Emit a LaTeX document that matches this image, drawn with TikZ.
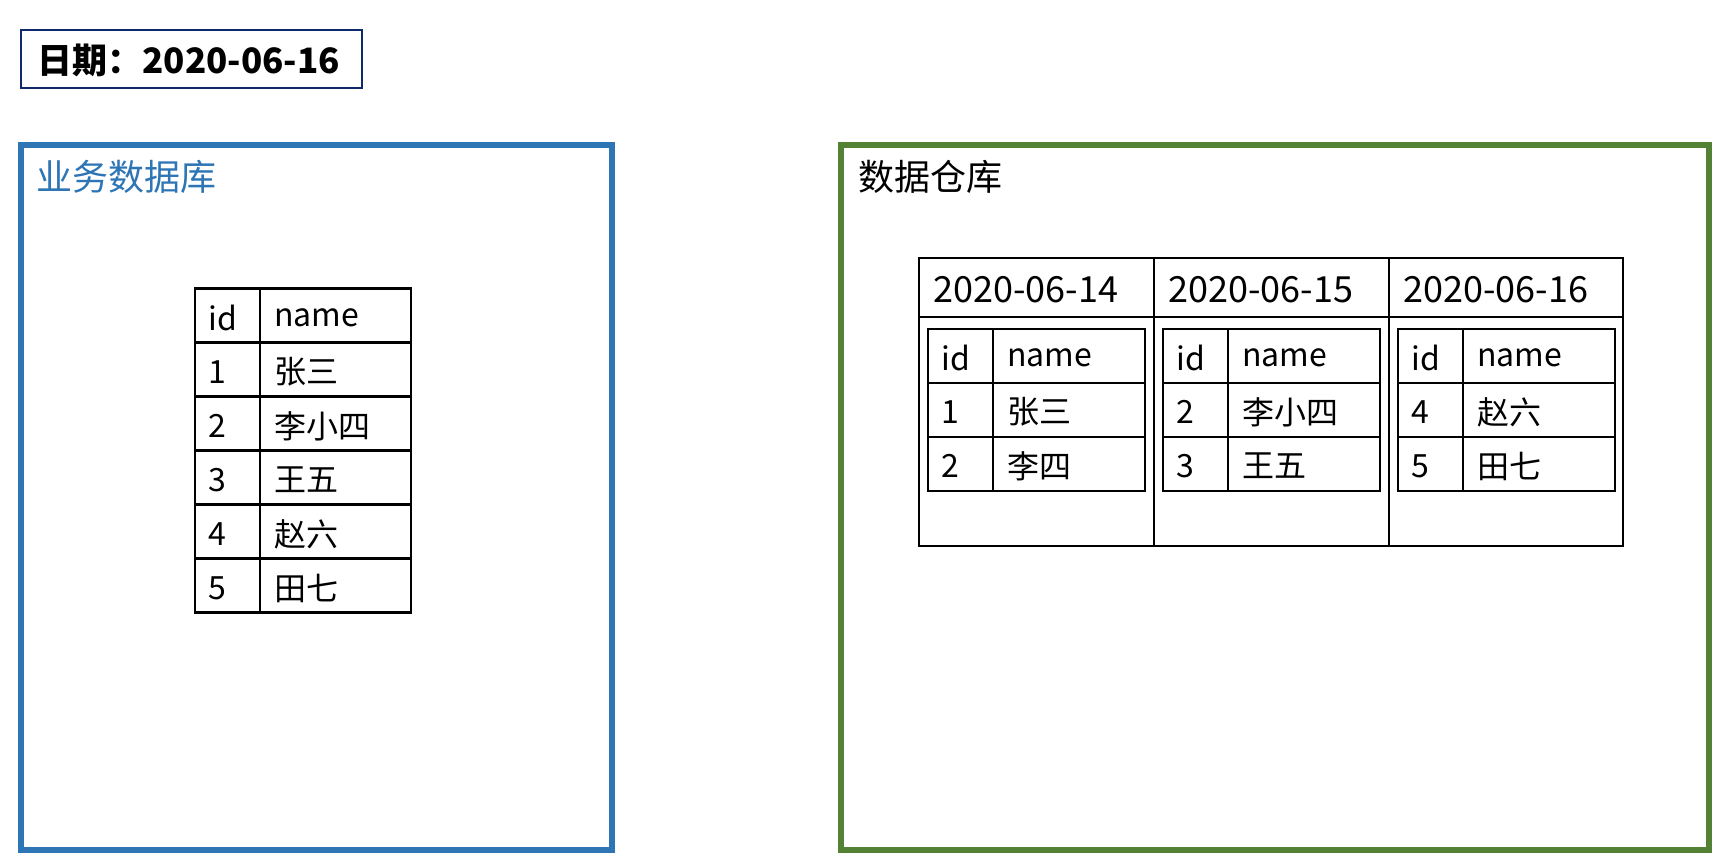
\documentclass[tikz,border=0pt]{standalone}
\usepackage{fontspec}
\setmainfont{Noto Sans CJK SC}
\definecolor{bizblue}{HTML}{2E75B6}
\definecolor{dwgreen}{HTML}{548235}
\definecolor{datenavy}{HTML}{0E2A6B}

\begin{document}
\begin{tikzpicture}[x=0.5pt, y=-0.5pt,
    cell/.style={anchor=west, inner sep=0pt, font=\fontsize{16}{16}\selectfont},
    grid/.style={line width=1.15pt, black},
    frame/.style={line width=2.6pt}]
  \useasboundingbox (0,0) rectangle (1720,860);

  % date label
  \draw [datenavy, line width=1.1pt] (21,30) rectangle (362,88);
  \node [anchor=west, inner sep=0pt, font=\bfseries\fontsize{17.5}{17.5}\selectfont] (date) at (37,60) {日期：2020-06-16};

  % business database
  \draw [frame, bizblue] (21,145) rectangle (612,850);
  \node [anchor=west, inner sep=0pt, bizblue, font=\fontsize{18}{18}\selectfont] (bizdb) at (36,177) {业务数据库};

  \draw [grid] (195,288.5) rectangle (411,612.5);
  \draw [grid] (260,288.5) -- (260,612.5);
  \foreach \r in {1,...,5}
    \draw [grid] (195,288.5+54*\r) -- (411,288.5+54*\r);
  \foreach \id/\name [count=\r from 0] in {id/name,1/张三,2/李小四,3/王五,4/赵六,5/田七} {
    \node [cell] (biz-id-\r) at (208,318+54*\r) {\id};
    \node [cell] (biz-name-\r) at (274,318+54*\r) {\name};
  }

  % data warehouse
  \draw [frame, dwgreen] (841,145) rectangle (1709,850);
  \node [anchor=west, inner sep=0pt, font=\fontsize{18}{18}\selectfont] (dw) at (858,177) {数据仓库};

  \draw [grid] (919,258) rectangle (1623,546);
  \draw [grid] (919,317) -- (1623,317);
  \draw [grid] (1154,258) -- (1154,546);
  \draw [grid] (1389,258) -- (1389,546);

  \foreach \c/\day/\ia/\na/\ib/\nb in {0/2020-06-14/1/张三/2/李四,
      1/2020-06-15/2/李小四/3/王五, 2/2020-06-16/4/赵六/5/田七} {
    \node [cell, font=\fontsize{18}{18}\selectfont] (day-\c) at (933+235*\c,290) {\day};
    \draw [grid] (928+235*\c,329) rectangle (1145+235*\c,491);
    \draw [grid] (993+235*\c,329) -- (993+235*\c,491);
    \draw [grid] (928+235*\c,383) -- (1145+235*\c,383);
    \draw [grid] (928+235*\c,437) -- (1145+235*\c,437);
    \node [cell] (dw-id-\c-0) at (941+235*\c,358) {id};
    \node [cell] (dw-name-\c-0) at (1007+235*\c,358) {name};
    \node [cell] (dw-id-\c-1) at (941+235*\c,412) {\ia};
    \node [cell] (dw-name-\c-1) at (1007+235*\c,412) {\na};
    \node [cell] (dw-id-\c-2) at (941+235*\c,466) {\ib};
    \node [cell] (dw-name-\c-2) at (1007+235*\c,466) {\nb};
  }
\end{tikzpicture}
\end{document}
